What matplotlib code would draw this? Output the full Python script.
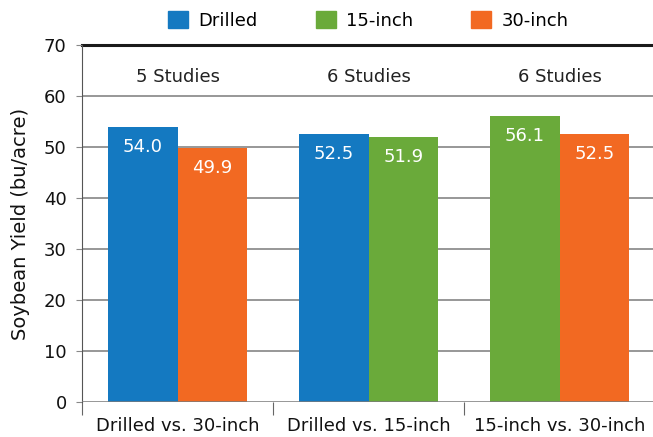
import matplotlib.pyplot as plt
from matplotlib.patches import Patch
import numpy as np

# comparisons (x groups)
groups = ["Drilled vs. 30-inch", "Drilled vs. 15-inch", "15-inch vs. 30-inch"]
studies = ["5 Studies", "6 Studies", "6 Studies"]

# first / second bar in each group
left_series = ["Drilled", "Drilled", "15-inch"]
left_vals = [54.0, 52.5, 56.1]
right_series = ["30-inch", "15-inch", "30-inch"]
right_vals = [49.9, 51.9, 52.5]

colors = {"Drilled": "#1479c1", "15-inch": "#6aaa3a", "30-inch": "#f26922"}
yticks = list(range(0, 71, 10))

plt.rcParams['font.family'] = ['DejaVu Sans']

fig = plt.figure(figsize=(6.53, 4.37), dpi=100)
ax = fig.add_axes([0.1256, 0.080, 0.8775, 0.817])

x = np.arange(len(groups)) + 0.5
w = 0.365

for i in range(len(groups)):
    for xpos, name, val in [(x[i] - w / 2, left_series[i], left_vals[i]),
                            (x[i] + w / 2, right_series[i], right_vals[i])]:
        ax.bar(xpos, val, w, color=colors[name], zorder=3)
        ax.annotate(f"{val:.1f}", (xpos, val), xytext=(0, -14.5), textcoords="offset points",
                    ha="center", va="center", color="white", fontsize=13, zorder=4)
    ax.text(x[i], 63.7, studies[i], ha="center", va="center", fontsize=13, color="#222222")

ax.set_ylim(0, 70)
ax.set_xlim(0, 3)
ax.set_yticks(yticks)
# gridlines: grey, the top one black and heavier
for yv in yticks[1:-1]:
    ax.axhline(yv, color="#7a7a7a", linewidth=1.1, zorder=0)
ax.axhline(yticks[-1], color="#1a1a1a", linewidth=2.2, zorder=1, clip_on=False)
ax.axhline(0, color="#7a7a7a", linewidth=1.1, zorder=4)
ax.tick_params(axis="y", length=4, color="#888888", labelsize=13, pad=7, labelcolor="#111111")

ax.set_xticks([0, 1, 2, 3])
ax.set_xticklabels([])
ax.set_xticks(x, minor=True)
ax.set_xticklabels(groups, minor=True, fontsize=13, color="#111111")
ax.tick_params(axis="x", which="major", length=9, color="#666666")
ax.tick_params(axis="x", which="minor", length=0, pad=11)

for s in ["top", "right", "bottom"]:
    ax.spines[s].set_visible(False)
ax.spines["left"].set_color("#555555")

ax.set_ylabel("Soybean Yield (bu/acre)", fontsize=14, labelpad=10, color="#111111")

handles = [Patch(color=colors[k]) for k in ["Drilled", "15-inch", "30-inch"]]
ax.legend(handles, ["Drilled", "15-inch", "30-inch"], ncol=3, loc="lower center",
          bbox_to_anchor=(0.5, 1.0), frameon=False, fontsize=13,
          handlelength=1.1, handleheight=1.1, columnspacing=3.2, handletextpad=0.6,
          borderaxespad=0.45)

fig.savefig("out.png", dpi=100)
